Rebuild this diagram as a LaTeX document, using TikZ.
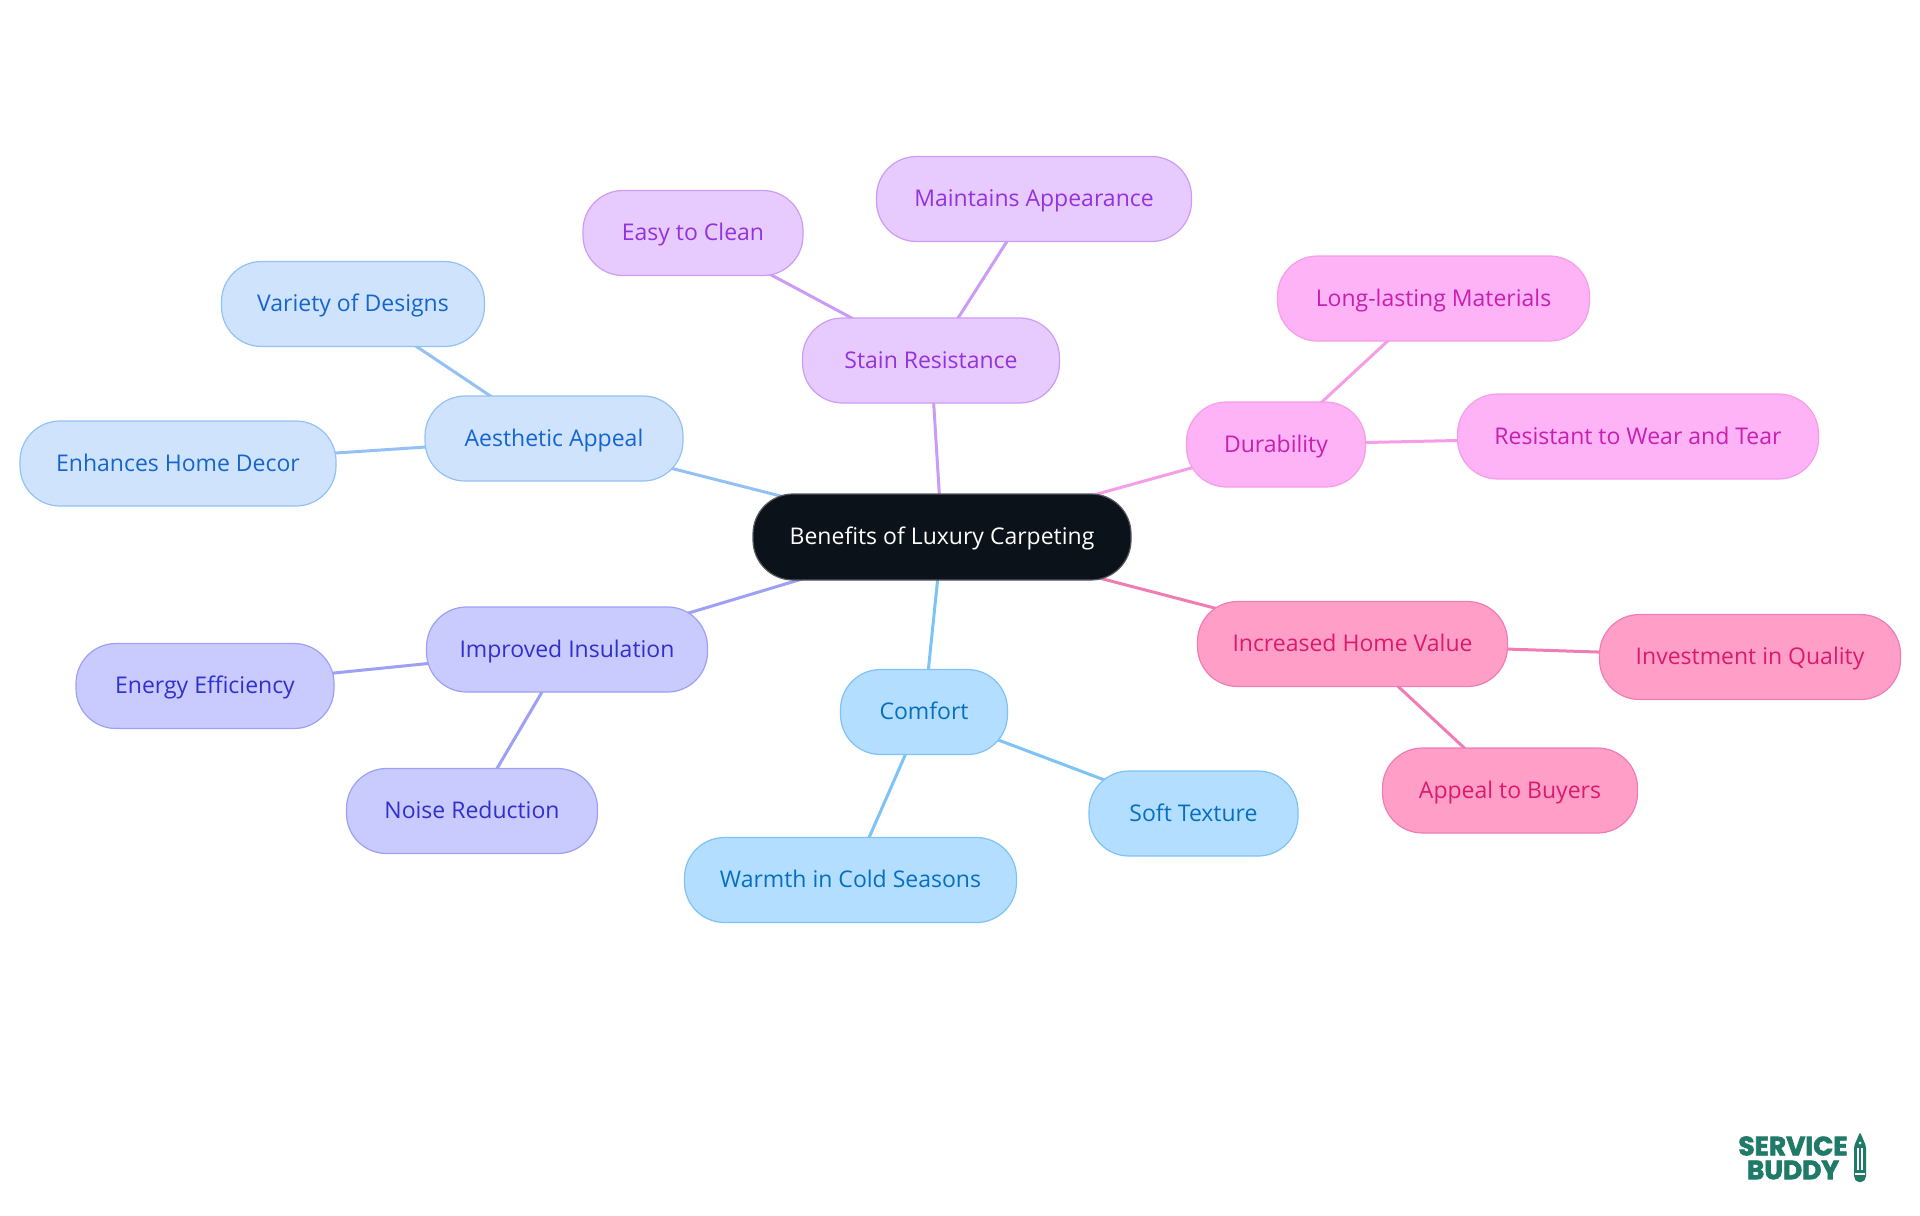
\documentclass[tikz,border=0pt]{standalone}
\usepackage{fontspec}
\setmainfont{Open Sans}
\newfontfamily\logofont[BoldFeatures={FakeBold=2.5}]{Poppins}
\usetikzlibrary{backgrounds}
\definecolor{rootfill}{HTML}{0C121A}
\definecolor{aesfill}{HTML}{CFE3FD}
\definecolor{aesline}{HTML}{93C1F5}
\definecolor{aestext}{HTML}{1565CF}
\definecolor{stainfill}{HTML}{E8CBFE}
\definecolor{stainline}{HTML}{CB9CF5}
\definecolor{staintext}{HTML}{9333DD}
\definecolor{durfill}{HTML}{FDB3F5}
\definecolor{durline}{HTML}{F59DE6}
\definecolor{durtext}{HTML}{C91FB0}
\definecolor{valfill}{HTML}{FF9FC8}
\definecolor{valline}{HTML}{F07CB4}
\definecolor{valtext}{HTML}{DB1A6E}
\definecolor{comfill}{HTML}{B4DEFF}
\definecolor{comline}{HTML}{7DC3F5}
\definecolor{comtext}{HTML}{0670C0}
\definecolor{insfill}{HTML}{C9CAFE}
\definecolor{insline}{HTML}{9EA0F5}
\definecolor{instext}{HTML}{3030CC}
\definecolor{logogreen}{HTML}{1F7A68}

\begin{document}
\begin{tikzpicture}[
    x=0.5pt, y=-0.5pt,
    pill/.style = {rectangle, rounded corners=20pt, line width=0.6pt, align=center, font=\fontsize{11.5}{14}\selectfont, minimum height=42.5pt, text height=10pt, text depth=2.5pt, inner sep=0pt, outer sep=0pt},
    central/.style = {pill, draw=rootfill!70!white, fill=rootfill, text=white, minimum height=43pt},
    aesthetic/.style = {pill, draw=aesline, fill=aesfill, text=aestext},
    stain/.style = {pill, draw=stainline, fill=stainfill, text=staintext},
    durable/.style = {pill, draw=durline, fill=durfill, text=durtext},
    homevalue/.style = {pill, draw=valline, fill=valfill, text=valtext},
    comfort/.style = {pill, draw=comline, fill=comfill, text=comtext},
    insulate/.style = {pill, draw=insline, fill=insfill, text=instext},
    link/.style = {line width=1.5pt},
    logotext/.style = {font=\logofont\bfseries\fontsize{13.2}{13.2}\selectfont, text=logogreen, inner sep=0pt}
]
\path [use as bounding box] (0,0) rectangle (1920,1215);

\node (root) [central, minimum width=189pt] at (942,537) {Benefits of Luxury Carpeting};

% Aesthetic branch
\node (aes) [aesthetic, minimum width=129pt] at (554,438.5) {Aesthetic Appeal};
\node (aes_var) [aesthetic, minimum width=131.5pt] at (353,304) {Variety of Designs};
\node (aes_dec) [aesthetic, minimum width=158pt] at (178,463.5) {Enhances Home Decor};

% Stain branch
\node (stn) [stain, minimum width=128.5pt] at (931,360.5) {Stain Resistance};
\node (stn_easy) [stain, minimum width=110pt] at (693,233) {Easy to Clean};
\node (stn_main) [stain, minimum width=157.5pt] at (1034,199) {Maintains Appearance};

% Durability branch
\node (dur) [durable, minimum width=89.5pt] at (1276,444.5) {Durability};
\node (dur_long) [durable, minimum width=156pt] at (1433.5,298.5) {Long-lasting Materials};
\node (dur_wear) [durable, minimum width=180.5pt] at (1638,436.5) {Resistant to Wear and Tear};

% Home value branch
\node (val) [homevalue, minimum width=155pt] at (1352.5,644) {Increased Home Value};
\node (val_inv) [homevalue, minimum width=150.5pt] at (1750,657) {Investment in Quality};
\node (val_buy) [homevalue, minimum width=127.5pt] at (1510,790.5) {Appeal to Buyers};

% Comfort branch
\node (com) [comfort, minimum width=83.5pt] at (924,712) {Comfort};
\node (com_soft) [comfort, minimum width=104.5pt] at (1193.5,813.5) {Soft Texture};
\node (com_warm) [comfort, minimum width=166pt] at (850.5,880) {Warmth in Cold Seasons};

% Insulation branch
\node (ins) [insulate, minimum width=140.5pt] at (567,649.5) {Improved Insulation};
\node (ins_eng) [insulate, minimum width=129pt] at (205,686) {Energy Efficiency};
\node (ins_noi) [insulate, minimum width=125.5pt] at (472,811) {Noise Reduction};

\begin{scope}[on background layer]
\draw [link, aesline] (root.center) -- (aes.center);
\draw [link, aesline] (aes.center) -- (aes_var.center);
\draw [link, aesline] (aes.center) -- (aes_dec.center);
\draw [link, stainline] (root.center) -- (stn.center);
\draw [link, stainline] (stn.center) -- (stn_easy.center);
\draw [link, stainline] (stn.center) -- (stn_main.center);
\draw [link, durline] (root.center) -- (dur.center);
\draw [link, durline] (dur.center) -- (dur_long.center);
\draw [link, durline] (dur.center) -- (dur_wear.center);
\draw [link, valline] (root.center) -- (val.center);
\draw [link, valline] (val.center) -- (val_inv.center);
\draw [link, valline] (val.center) -- (val_buy.center);
\draw [link, comline] (root.center) -- (com.center);
\draw [link, comline] (com.center) -- (com_soft.center);
\draw [link, comline] (com.center) -- (com_warm.center);
\draw [link, insline] (root.center) -- (ins.center);
\draw [link, insline] (ins.center) -- (ins_eng.center);
\draw [link, insline] (ins.center) -- (ins_noi.center);
\end{scope}

% Logo
\node (logo_a) [logotext] at (1793,1146) {SERVICE};
\node (logo_b) [logotext] at (1793,1170) {BUDDY};
\fill [logogreen, rounded corners=1pt] (1860,1132) -- (1866,1146) -- (1866,1178) -- (1863,1182) -- (1857,1182) -- (1854,1178) -- (1854,1146) -- cycle;
\fill [white] (1857,1148) rectangle (1859,1170);
\fill [white] (1861,1148) rectangle (1863,1170);
\fill [white] (1855,1173) rectangle (1865,1175);
\fill [white] (1860,1143) circle (1.5);

\end{tikzpicture}
\end{document}
